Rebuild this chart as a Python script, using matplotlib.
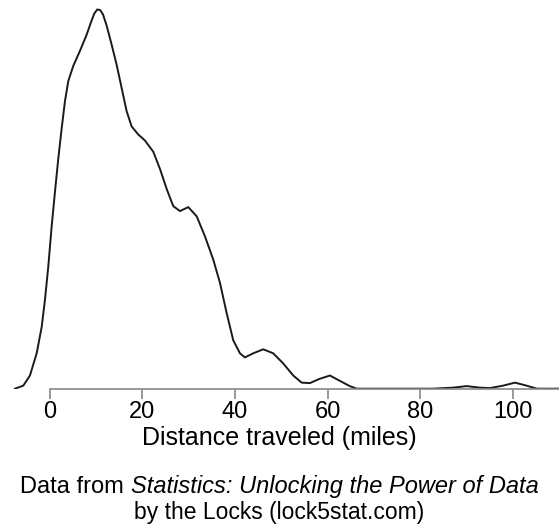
import numpy as np
import matplotlib.pyplot as plt

plt.rcParams['font.family'] = ['Liberation Sans', 'DejaVu Sans']

# density estimate of distance traveled (miles)
dist = [-7.52, -5.72, -4.28, -2.83, -1.75, -1.04, -0.32, 0.41, 1.12, 1.84,
        2.57, 3.28, 4.00, 5.08, 6.52, 7.97, 8.90, 9.60, 10.26, 10.90,
        11.50, 12.29, 13.37, 14.45, 15.53, 16.61, 17.69, 19.11, 20.56,
        22.35, 23.80, 25.25, 26.67, 28.12, 29.91, 31.73, 33.52, 35.31,
        36.76, 38.21, 39.63, 41.08, 42.16, 43.95, 46.11, 48.27, 50.43,
        52.59, 54.41, 56.20, 58.10, 60.52, 63.39, 64.80, 66.29, 82.80,
        87.10, 90.04, 92.90, 95.07, 97.90, 100.50, 103.00, 105.20, 110.00]
dens = [0.0, 0.00027, 0.00118, 0.00317, 0.00552, 0.00796, 0.01094, 0.01456,
        0.01763, 0.02062, 0.02333, 0.02577, 0.02758, 0.02894, 0.03029,
        0.03174, 0.03285, 0.03362, 0.03400, 0.03394, 0.03355, 0.03255,
        0.03084, 0.02903, 0.02695, 0.02487, 0.02351, 0.02279, 0.02225,
        0.02125, 0.01971, 0.01791, 0.01637, 0.01592, 0.01628, 0.01546,
        0.01366, 0.01158, 0.00950, 0.00678, 0.00434, 0.00317, 0.00280,
        0.00317, 0.00353, 0.00317, 0.00226, 0.00118, 0.00054, 0.00050,
        0.00085, 0.00118, 0.00054, 0.00023, 0.0, 0.0, 0.00009, 0.00023,
        0.00009, 0.00005, 0.00027, 0.00054, 0.00027, 0.0, 0.0]

xticks = [0, 20, 40, 60, 80, 100]
xlabel = 'Distance traveled (miles)'

fig = plt.figure(figsize=(5.59, 5.30), dpi=100)
ax = fig.add_axes([0.0, 1 - 389 / 530, 1.0, 384 / 530])

ax.plot(dist, dens, color='#1a1a1a', lw=1.4, solid_joinstyle='round')
ax.set_xlim(-10.75, 110.0)
ax.set_ylim(-0.00003, 0.0344)

for side in ['left', 'right', 'top']:
    ax.spines[side].set_visible(False)
ax.spines['bottom'].set_color('#888888')
ax.spines['bottom'].set_linewidth(1.2)
ax.spines['bottom'].set_bounds(0, 110)
ax.set_yticks([])
ax.set_xticks(xticks)
ax.tick_params(axis='x', length=7, width=1.2, color='#888888',
               labelsize=17, pad=2)

fig.text(0.5, 1 - 438 / 530, xlabel, ha='center', va='center', fontsize=18)

# caption: plain / italic pieces on the first line, centred as a whole
y1 = 1 - 487 / 530
pieces = [('Data from ', 'normal'),
          ('Statistics: Unlocking the Power of Data', 'italic')]
texts = [fig.text(0, y1, s, fontsize=17, style=st, va='center')
         for s, st in pieces]
renderer = fig.canvas.get_renderer()
widths = [t.get_window_extent(renderer).width for t in texts]
x0 = (fig.bbox.width - sum(widths)) / 2
for t, w in zip(texts, widths):
    t.set_x(x0 / fig.bbox.width)
    x0 += w
fig.text(0.5, 1 - 513 / 530, 'by the Locks (lock5stat.com)',
         ha='center', va='center', fontsize=16.5)

fig.savefig('out.png', dpi=100)
